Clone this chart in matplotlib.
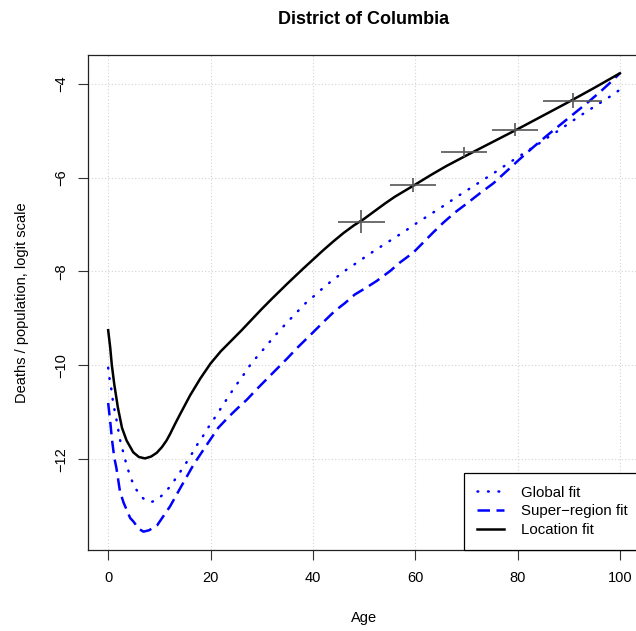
import matplotlib
matplotlib.use("Agg")
import matplotlib.pyplot as plt

plt.rcParams['font.family'] = ['Liberation Sans', 'DejaVu Sans']

# global fit
ages_global = [0, 0.3, 0.7, 1.0, 1.5, 1.9, 2.3, 2.9, 3.5, 4.2, 5.1, 6.4, 7.4, 8.4, 9.4,
               10.5, 12.1, 14, 16, 17.2, 18.5, 19.8, 21.1, 22.4, 23.7, 25, 26.4, 27.7,
               29.2, 30.8, 32.3, 35, 38.8, 40.6, 42.4, 44.3, 46.2, 48.1, 50.1, 52, 54,
               56, 58, 60, 62, 64, 66, 68, 70, 72, 74, 76, 78, 80, 82, 84, 86, 88, 90,
               92, 94, 96, 98, 100]
global_fit = [-10.05, -10.31, -10.56, -10.83, -11.08, -11.33, -11.58, -11.83, -12.08,
              -12.33, -12.58, -12.79, -12.88, -12.91, -12.87, -12.77, -12.58, -12.28,
              -11.95, -11.72, -11.51, -11.28, -11.07, -10.85, -10.63, -10.42, -10.21,
              -10.0, -9.8, -9.6, -9.4, -9.08, -8.65, -8.49, -8.31, -8.15, -7.99, -7.85,
              -7.7, -7.56, -7.42, -7.28, -7.14, -6.99, -6.85, -6.71, -6.57, -6.42, -6.28,
              -6.14, -6.0, -5.86, -5.71, -5.57, -5.43, -5.29, -5.14, -5.0, -4.85, -4.7,
              -4.56, -4.42, -4.28, -4.13]

# super-region fit
ages_super = [0, 0.5, 0.7, 1.2, 1.6, 2.3, 3, 4.3, 4.9, 6, 6.9, 8, 9.6, 12.1, 14.1, 16.7,
              18.9, 21.5, 23.5, 25.4, 27.1, 29, 31, 33, 35, 37, 40, 42.4, 44.3, 46.3,
              48.2, 50.5, 52.5, 55.1, 57, 59.6, 61.6, 63.5, 65.5, 67.8, 70, 72.7, 75.3,
              77.9, 80.5, 83.1, 85.7, 88.3, 90.9, 93.5, 96.1, 98, 100]
super_fit = [-10.8, -11.3, -11.54, -11.97, -12.18, -12.68, -12.92, -13.25, -13.32,
             -13.48, -13.54, -13.51, -13.4, -13.0, -12.61, -12.11, -11.75, -11.33, -11.1,
             -10.9, -10.73, -10.51, -10.29, -10.07, -9.85, -9.62, -9.3, -9.04, -8.84,
             -8.67, -8.49, -8.34, -8.2, -7.99, -7.81, -7.6, -7.38, -7.17, -6.96, -6.74,
             -6.56, -6.33, -6.12, -5.86, -5.6, -5.35, -5.11, -4.88, -4.65, -4.42, -4.18,
             -3.99, -3.78]

# location fit
ages_loc = [0, 0.4, 0.7, 1.2, 1.9, 2.7, 3.6, 4.9, 6, 7.2, 8.4, 9.5, 10.5, 11.4, 12.1,
            13.1, 14.1, 16, 18, 20, 22, 24, 26, 28, 30, 32, 35, 38, 40, 42, 44, 46, 48,
            50, 52, 54, 56, 58, 60, 63, 66, 70, 75, 80, 85, 90, 95, 100]
loc_fit = [-9.25, -9.62, -9.98, -10.41, -10.9, -11.33, -11.6, -11.85, -11.95, -11.98,
           -11.94, -11.86, -11.74, -11.6, -11.46, -11.24, -11.03, -10.64, -10.28, -9.96,
           -9.7, -9.48, -9.26, -9.03, -8.8, -8.58, -8.26, -7.95, -7.75, -7.55, -7.36,
           -7.18, -7.02, -6.88, -6.72, -6.56, -6.41, -6.28, -6.15, -5.95, -5.76, -5.53,
           -5.25, -4.97, -4.68, -4.39, -4.09, -3.78]

# observed data (age group midpoints, half widths)
obs_age = [49.5, 59.5, 69.5, 79.5, 90.75]
obs_halfwidth = [4.5, 4.5, 4.5, 4.5, 5.75]
obs_val = [-6.94, -6.15, -5.45, -4.98, -4.36]
obs_err = [0.24, 0.15, 0.11, 0.14, 0.16]

fig = plt.figure(figsize=(6.36, 6.31), dpi=100)
ax = fig.add_axes([0.1379, 0.1284, 0.869, 0.7845])

ax.grid(True, color='#d3d3d3', linestyle=(0, (1, 2)), linewidth=0.8)
ax.set_axisbelow(True)

ax.plot(ages_global, global_fit, color='blue', linewidth=1.8,
        linestyle=(0, (0.3, 3.9)), dash_capstyle='round', label='Global fit')
ax.plot(ages_super, super_fit, color='blue', linewidth=1.8,
        linestyle=(0, (5.0, 2.6)), label='Super\u2212region fit')
ax.plot(ages_loc, loc_fit, color='black', linewidth=1.8, label='Location fit')

ax.errorbar(obs_age, obs_val, xerr=obs_halfwidth, yerr=obs_err, fmt='none',
            ecolor='#555555', elinewidth=1.2, capsize=0)

ax.set_xlim(-4, 104)
ax.set_ylim(-13.93, -3.39)
ax.set_xticks([0, 20, 40, 60, 80, 100])
ax.set_yticks([-4, -6, -8, -10, -12])
for lab in ax.get_yticklabels():
    lab.set_rotation(90)
    lab.set_va('center')
ax.tick_params(direction='out', length=7.2, width=0.8, labelsize=10.5, color='#333333')
ax.tick_params(axis='x', pad=8)
ax.tick_params(axis='y', pad=7)
for sp in ax.spines.values():
    sp.set_linewidth(0.9)
    sp.set_color('#222222')

ax.set_xlabel('Age', fontsize=10.5)
ax.xaxis.set_label_coords(0.5, -0.137)
ax.xaxis.label.set_va('center')
ax.set_ylabel('Deaths / population, logit scale', fontsize=10.5)
ax.yaxis.set_label_coords(-0.119, 0.5)
ax.yaxis.label.set_va('center')

ax.set_title('District of Columbia', fontsize=13, fontweight='bold', y=1.0707,
             va='center', pad=0)

leg = ax.legend(loc='lower right', borderaxespad=0, fontsize=10.8, fancybox=False,
                framealpha=1, edgecolor='black', handlelength=1.85, handletextpad=1.1,
                borderpad=0.85, labelspacing=0.32)
leg.get_frame().set_linewidth(0.9)

fig.savefig('out.png', dpi=100)
